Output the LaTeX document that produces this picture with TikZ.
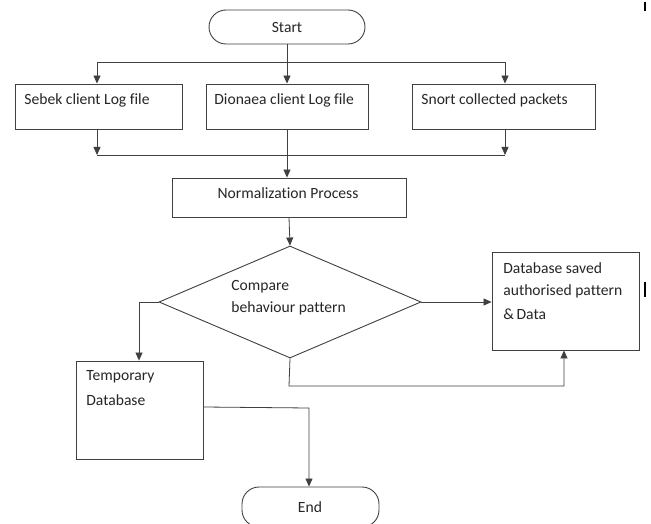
\documentclass[tikz,border=0pt]{standalone}
\usepackage{fontspec}
\setmainfont[Ligatures=NoCommon]{Carlito}
\usetikzlibrary{arrows.meta,shapes.geometric}
\begin{document}
\begin{tikzpicture}[x=1pt,y=-1pt,
  line width=0.8pt,
  every node/.style={font=\fontsize{15.6}{23}\selectfont, text=black!85},
  box/.style={draw=black!75, line width=0.9pt, inner sep=0pt},
  term/.style={draw=black!75, line width=0.9pt, rounded corners=17pt, inner sep=0pt},
  txt/.style={inner sep=0pt, anchor=west},
  arr/.style={draw=black!75, -{Triangle[length=8pt,width=7pt]}},
  ln/.style={draw=black!75}]
\clip (0,0) rectangle (651,524);
\fill[white] (0,0) rectangle (651,524);
% terminals
\node[term, minimum width=156pt, minimum height=34pt] (start) at (287,27) {Start};
\node[term, minimum width=137pt, minimum height=40pt] (end) at (310.5,507) {};
\node[inner sep=0pt] (endtxt) at (310,507) {End};
% boxes
\node[box, minimum width=167pt, minimum height=45pt] (sebek) at (98.5,106.5) {};
\node[box, minimum width=162pt, minimum height=45pt] (dion) at (287,106.5) {};
\node[box, minimum width=183pt, minimum height=45pt] (snort) at (503.5,106.5) {};
\node[txt] (sebektxt) at (24,100) {Sebek client Log file};
\node[txt] (diontxt) at (214,100) {Dionaea client Log file};
\node[txt] (snorttxt) at (421,100) {Snort collected packets};
\node[box, minimum width=234pt, minimum height=39pt] (norm) at (289,197.5) {};
\node[inner sep=0pt] (normtxt) at (288,193) {Normalization Process};
\node[draw=black!75, line width=0.9pt, diamond, inner sep=0pt, minimum width=262pt, minimum height=112pt] (cmp) at (290,302) {};
\node[txt] (cmptxt1) at (231,287) {Compare};
\node[txt] (cmptxt2) at (231,308) {behaviour pattern};
\node[box, minimum width=147pt, minimum height=98pt] (db) at (565.5,301) {};
\node[txt] (dbtxt1) at (503,268) {Database saved};
\node[txt] (dbtxt2) at (503,291) {authorised pattern};
\node[txt] (dbtxt3) at (503,314) {\&\,Data};
\node[box, minimum width=127pt, minimum height=98pt] (temp) at (139.5,410) {};
\node[txt] (temptxt1) at (86,377) {Temporary};
\node[txt] (temptxt2) at (86,400) {Database};
% coordinates
\coordinate (tl) at (97,62);
\coordinate (tr) at (505,62);
\coordinate (bl) at (97,155);
\coordinate (br) at (505,155);
\coordinate (lc) at (139,302);
\coordinate (bc) at (289,386);
\coordinate (rc) at (564,386);
\coordinate (tc) at (309,408);
% connectors
\draw[arr] (start.south) -- (dion.north);
\draw[ln] (tl) -- (tr);
\draw[arr] (tl) -- (tl |- sebek.north);
\draw[arr] (tr) -- (tr |- snort.north);
\draw[arr] (tl |- sebek.south) -- (bl);
\draw[arr] (tr |- snort.south) -- (br);
\draw[ln] (bl) -- (br);
\draw[arr] (dion.south) -- (dion.south |- norm.north);
\draw[arr] (norm.south) -- (cmp.north);
\draw[arr] (cmp.east) -- (db.west |- cmp.east);
\draw[arr] (cmp.south) -- (bc) -- (rc) -- (rc |- db.south);
\draw[arr] (cmp.west) -- (lc) -- (lc |- temp.north);
\draw[arr] (temp.east |- 0,407) -- (tc) -- (tc |- end.north);
% stray marks at right edge
\draw[line width=1.4pt] (645,2) -- (645,11);
\draw[line width=1.4pt] (645,282) -- (645,297);
\end{tikzpicture}
\end{document}
